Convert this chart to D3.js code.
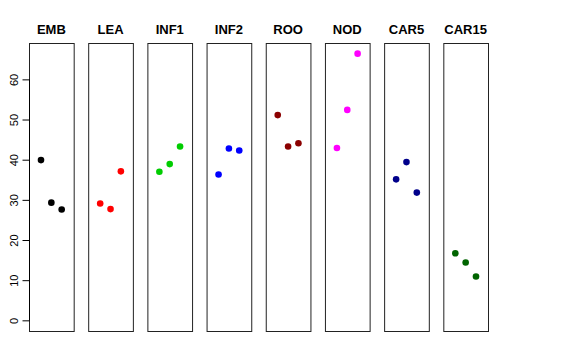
<!DOCTYPE html>
<html>
<head>
<meta charset="utf-8">
<script src="https://cdn.jsdelivr.net/npm/d3@7"></script>
<style>
  body { margin: 0; background: #fff; }
  svg { display: block; font-family: "Liberation Sans", Arial, sans-serif; }
</style>
</head>
<body>
<div id="chart"></div>
<script>
// panel names and colours
var groups = ["EMB", "LEA", "INF1", "INF2", "ROO", "NOD", "CAR5", "CAR15"];
var colors = ["#000000", "#ff0000", "#00cd00", "#0000ff", "#8b0000", "#ff00ff", "#00008b", "#006400"];

// three samples per panel
var sample1 = [39.9, 29.1, 37.0, 36.3, 51.1, 42.9, 35.1, 16.7];
var sample2 = [29.3, 27.7, 38.9, 42.8, 43.3, 52.4, 39.4, 14.4];
var sample3 = [27.6, 37.1, 43.3, 42.3, 44.1, 66.4, 31.8, 10.9];

var yTicks = [0, 10, 20, 30, 40, 50, 60];

var width = 576, height = 360;
var margin = { top: 43, right: 88, bottom: 29, left: 29 };

var svg = d3.select("#chart").append("svg")
  .attr("width", width)
  .attr("height", height);

var panelX = d3.scaleBand()
  .domain(groups)
  .range([margin.left, width - margin.right])
  .paddingInner(0.245)
  .paddingOuter(0);

// R style 4% axis extension
var yMax = d3.max([sample1, sample2, sample3], function(s) { return d3.max(s); });
var ext = 0.04 * (yMax - 0);
var yScale = d3.scaleLinear()
  .domain([0 - ext, yMax + ext])
  .range([height - margin.bottom, margin.top]);

var innerX = d3.scaleLinear()
  .domain([-0.16, 4.16])
  .range([0, panelX.bandwidth()]);

var panels = svg.selectAll("g.panel").data(groups).enter()
  .append("g")
  .attr("class", "panel")
  .attr("transform", function(d) { return "translate(" + panelX(d) + ",0)"; });

panels.append("rect")
  .attr("x", 0.5)
  .attr("y", margin.top + 0.5)
  .attr("width", panelX.bandwidth())
  .attr("height", height - margin.bottom - margin.top)
  .attr("fill", "none")
  .attr("stroke", "#222")
  .attr("stroke-width", 1);

panels.append("text")
  .attr("x", panelX.bandwidth() / 2)
  .attr("y", 34)
  .attr("text-anchor", "middle")
  .style("font-weight", "bold")
  .style("font-size", "13px")
  .text(function(d) { return d; });

panels.each(function(g, i) {
  var vals = [sample1[i], sample2[i], sample3[i]];
  d3.select(this).selectAll("circle").data(vals).enter()
    .append("circle")
    .attr("cx", function(d, j) { return innerX(j + 1); })
    .attr("cy", function(d) { return yScale(d); })
    .attr("r", 3.3)
    .attr("fill", colors[i]);
});

// y axis, labels turned like base graphics
var yAxis = svg.append("g")
  .attr("transform", "translate(" + (margin.left + 0.5) + ",0)")
  .call(d3.axisLeft(yScale).tickValues(yTicks).tickSize(7));

yAxis.select(".domain")
  .attr("d", "M0," + yScale(0) + "V" + yScale(60));
yAxis.selectAll("text")
  .style("font-size", "11px")
  .attr("fill", "#000")
  .attr("x", 0)
  .attr("dy", 0)
  .attr("text-anchor", "middle")
  .attr("transform", "translate(-12,0) rotate(-90)");
</script>
</body>
</html>
